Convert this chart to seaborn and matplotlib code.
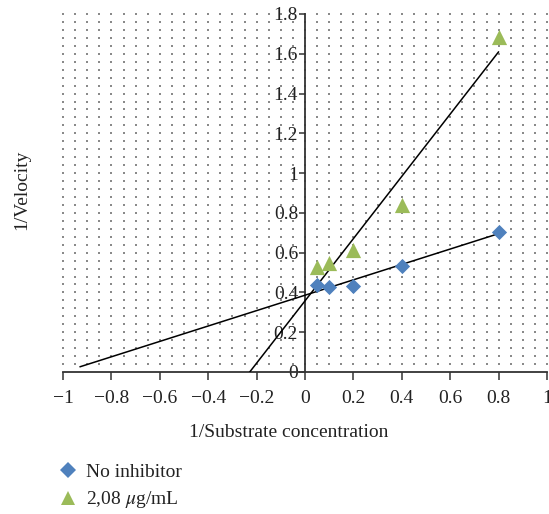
import numpy as np
import pandas as pd
import matplotlib
matplotlib.use("Agg")
import matplotlib.pyplot as plt
import seaborn as sns
from matplotlib.lines import Line2D

# ---- data ----
inv_substrate = [0.05, 0.1, 0.2, 0.4, 0.8]
no_inhibitor = [0.435, 0.425, 0.43, 0.535, 0.705]
inhibitor_208 = [0.527, 0.547, 0.614, 0.84, 1.686]
series_labels = ["No inhibitor", "2,08 $\\mu$g/mL"]
backward_forecast = [0.98, 0.28]   # trendline extension to the left
x_ticks = [-1, -0.8, -0.6, -0.4, -0.2, 0, 0.2, 0.4, 0.6, 0.8, 1]
y_ticks = [0, 0.2, 0.4, 0.6, 0.8, 1, 1.2, 1.4, 1.6, 1.8]

BLUE = "#4F81BD"
GREEN = "#9BBB59"
FS = 14

sns.set_theme(style="white")
plt.rcParams["font.family"] = ["Liberation Serif", "DejaVu Serif"]
plt.rcParams["mathtext.fontset"] = "stix"

fig = plt.figure(figsize=(5.49, 5.14), dpi=100)
W, H = 549, 514
x0, x1 = 63, 547
y0, y1 = 372, 14
ax = fig.add_axes([x0 / W, (H - y0) / H, (x1 - x0) / W, (y0 - y1) / H])
ax.set_xlim(-1, 1)
ax.set_ylim(0, 1.8)

# dotted background grid (minor gridline intersections)
gx, gy = np.meshgrid(np.arange(-1, 1.0001, 0.05), np.arange(0.04, 1.8001, 0.04))
ax.scatter(gx.ravel(), gy.ravel(), marker="s", s=1.2, color="#8a8a8a",
           linewidths=0, zorder=0, clip_on=False)

df = pd.DataFrame({"x": inv_substrate, "a": no_inhibitor, "b": inhibitor_208})

# trendlines (least-squares, extended backwards)
for col, bf in zip(["a", "b"], backward_forecast):
    slope, intercept = np.polyfit(df["x"], df[col], 1)
    xs = np.array([df["x"].min() - bf, df["x"].max()])
    sns.lineplot(x=xs, y=slope * xs + intercept, ax=ax, color="black",
                 linewidth=1.1, zorder=3)

sns.scatterplot(data=df, x="x", y="a", ax=ax, marker="D", color=BLUE, s=60,
                linewidth=0, zorder=4)
sns.scatterplot(data=df, x="x", y="b", ax=ax, marker="^", color=GREEN, s=120,
                linewidth=0, zorder=4)

# spines
for s in ["top", "right"]:
    ax.spines[s].set_visible(False)
ax.spines["left"].set_position(("data", 0))
ax.spines["left"].set_color("#333333")
ax.spines["bottom"].set_color("#333333")
ax.spines["left"].set_linewidth(1.3)
ax.spines["bottom"].set_linewidth(1.3)

ax.set_xticks(x_ticks)
ax.set_yticks(y_ticks)
ax.set_xticklabels([f"{v:g}".replace("-", "\u2212") for v in x_ticks])
ax.set_yticklabels([f"{v:g}" for v in y_ticks])
ax.tick_params(axis="x", direction="out", length=6, width=1.1, pad=7,
               labelsize=FS, colors="#333333", labelcolor="#222222", bottom=True)
ax.tick_params(axis="y", direction="out", length=4, width=1.1, pad=1,
               labelsize=FS, colors="#333333", labelcolor="#222222", left=True)

ax.set_xlabel("1/Substrate concentration", fontsize=FS, color="#222222")
ax.set_ylabel("1/Velocity", fontsize=FS, color="#222222")
ax.xaxis.set_label_coords((289 - x0) / (x1 - x0), (y0 - 424) / (y0 - y1))
ax.yaxis.set_label_coords((30 - x0) / (x1 - x0), (y0 - 190) / (y0 - y1))

handles = [
    Line2D([], [], marker="D", color=BLUE, linestyle="none", markersize=8, markeredgewidth=0),
    Line2D([], [], marker="^", color=GREEN, linestyle="none", markersize=10.5, markeredgewidth=0),
]
fig.legend(handles, series_labels, loc="upper left",
           bbox_to_anchor=(58 / W, (H - 463) / H), frameon=False,
           fontsize=FS, handletextpad=0.45, labelspacing=0.45,
           handlelength=1.0, borderaxespad=0, borderpad=0, labelcolor="#222222")

fig.savefig("out.png", dpi=100)
